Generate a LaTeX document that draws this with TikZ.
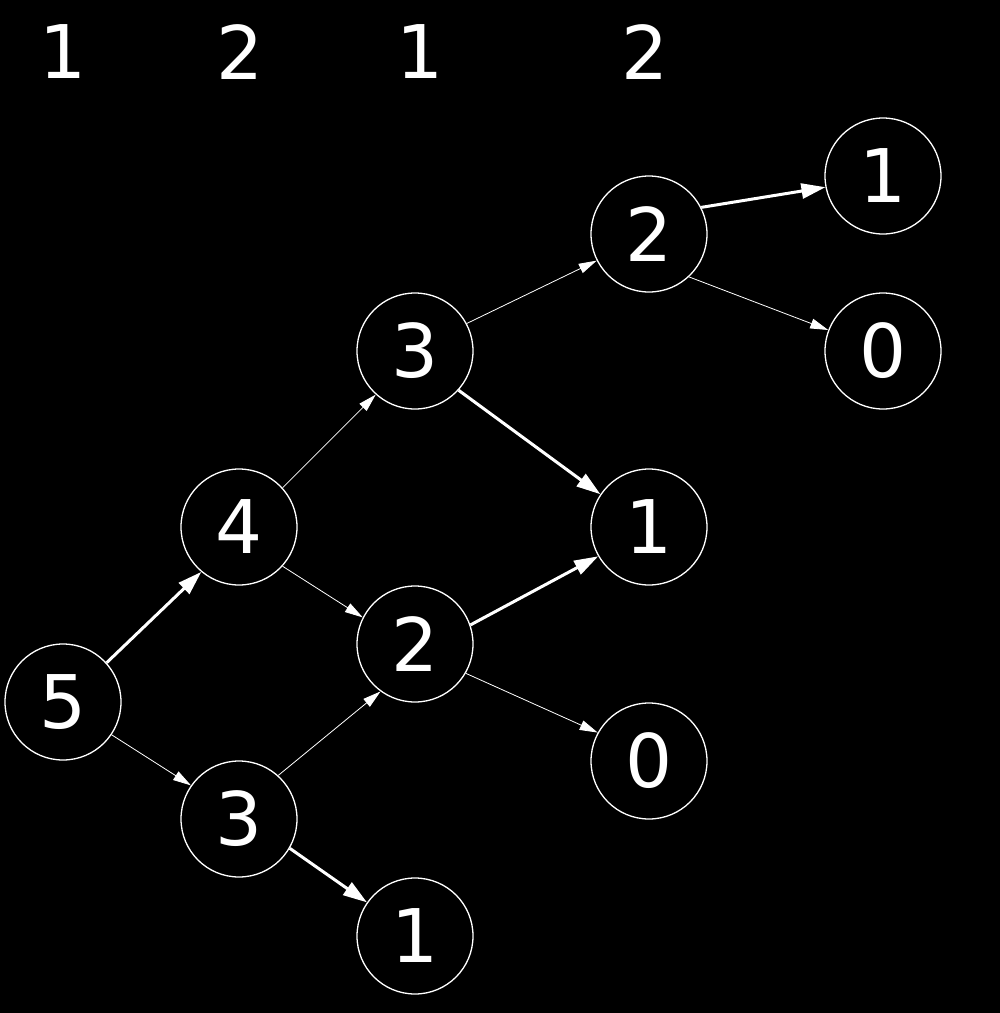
\documentclass[tikz,border=0pt]{standalone}
\usepackage{fontspec}
\setmainfont{DejaVu Sans}
\usetikzlibrary{arrows.meta}
\begin{document}
\begin{tikzpicture}[x=1pt,y=-1pt,
  vnode/.style={circle,draw=white,line width=1.3pt,fill=black,minimum size=116pt,inner sep=0pt,text=white,font=\fontsize{74}{74}\selectfont},
  lbl/.style={text=white,font=\fontsize{74}{74}\selectfont,inner sep=0pt},
  thin/.style={draw=white,line width=0.8pt,-{Triangle[length=18pt,width=10pt]}},
  thick/.style={draw=white,line width=3pt,-{Triangle[length=24pt,width=15pt]}}]
\fill[black] (0,0) rectangle (1000,1013);
\useasboundingbox (0,0) rectangle (1000,1013);
\node[lbl] (l1) at (63,52) {1};
\node[lbl] (l2) at (240,52) {2};
\node[lbl] (l3) at (420,52) {1};
\node[lbl] (l4) at (645,52) {2};
\node[vnode] (n5) at (63,702) {5};
\node[vnode] (n4) at (239,527) {4};
\node[vnode] (n3b) at (239,819) {3};
\node[vnode] (n3a) at (415,351) {3};
\node[vnode] (n2m) at (415,644) {2};
\node[vnode] (n1b) at (415,936) {1};
\node[vnode] (n2t) at (649,234) {2};
\node[vnode] (n1m) at (649,527) {1};
\node[vnode] (n0m) at (649,761) {0};
\node[vnode] (n1t) at (883,176) {1};
\node[vnode] (n0r) at (883,351) {0};
\draw[thick] (n5.42) -- (n4.230);
\draw[thin] (n5.-34) -- (n3b.145);
\draw[thin] (n4.42) -- (n3a.228);
\draw[thin] (n4.-42) -- (n2m.153);
\draw[thin] (n3b.48) -- (n2m.234);
\draw[thick] (n3b.-30) -- (n1b.145);
\draw[thin] (n3a.28) -- (n2t.207);
\draw[thick] (n3a.-42) -- (n1m.146);
\draw[thick] (n2m.19) -- (n1m.210);
\draw[thin] (n2m.-30) -- (n0m.151);
\draw[thick] (n2t.27) -- (n1t.191);
\draw[thin] (n2t.-47) -- (n0r.159);
\end{tikzpicture}
\end{document}
